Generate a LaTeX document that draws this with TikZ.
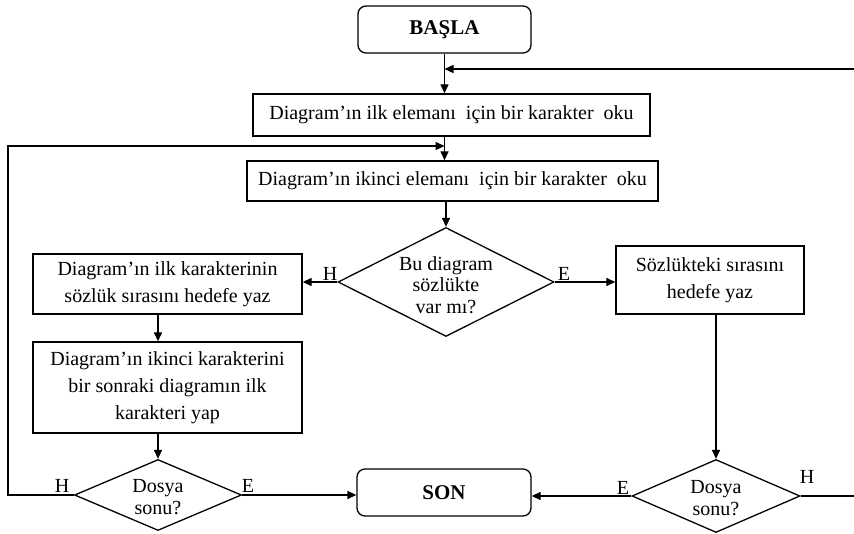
\documentclass[tikz,border=0pt]{standalone}
\usepackage{fontspec}
\setmainfont{Liberation Serif}
\usetikzlibrary{shapes.geometric,arrows.meta}

\begin{document}
\begin{tikzpicture}[x=1pt,y=-1pt,
  line width=1.3pt,
  procbox/.style={draw, rectangle, inner sep=0pt, align=center,
    font=\fontsize{20}{27}\selectfont},
  termbox/.style={draw, rectangle, rounded corners=8pt, inner sep=0pt,
    font=\bfseries\fontsize{21}{24}\selectfont},
  decbox/.style={draw, diamond, inner sep=0pt},
  dectext/.style={inner sep=0pt, align=center, font=\fontsize{20}{21.5}\selectfont},
  branch/.style={inner sep=0pt, font=\fontsize{20}{21}\selectfont},
  arr/.style={-{Triangle[length=9pt,width=8pt]}}]

\useasboundingbox (0,0) rectangle (854,534);
\clip (0,0) rectangle (854,534);

% terminals
\node[termbox, minimum width=173, minimum height=47] (basla) at (444.5,29.5) {BAŞLA};
\node[termbox, minimum width=174, minimum height=47] (son) at (444,492.5) {SON};

% reading steps
\node[procbox, minimum width=397, minimum height=42] (b1) at (451.5,115)
  {Diagram’ın ilk elemanı\ \ için bir karakter\ \ oku};
\node[procbox, minimum width=411, minimum height=40] (b2) at (452.5,181)
  {Diagram’ın ikinci elemanı\ \ için bir karakter\ \ oku};

% dictionary lookup
\node[decbox, minimum width=216, minimum height=109] (d1) at (446,282) {};
\node[dectext] (d1t) at (446,285) {Bu diagram\\sözlükte\\var mı?};

\node[procbox, minimum width=269, minimum height=60] (bA) at (167.5,284)
  {Diagram’ın ilk karakterinin\\sözlük sırasını hedefe yaz};
\node[procbox, minimum width=269, minimum height=91] (bC) at (167.5,387.5)
  {Diagram’ın ikinci karakterini\\bir sonraki diagramın ilk\\karakteri yap};
\node[procbox, minimum width=188, minimum height=68] (bB) at (710,280)
  {Sözlükteki sırasını\\hedefe yaz};

% end-of-file tests
\node[decbox, minimum width=167, minimum height=71] (d2) at (158,495) {};
\node[dectext] (d2t) at (158,497) {Dosya\\sonu?};
\node[decbox, minimum width=168, minimum height=73] (d3) at (716,496) {};
\node[dectext] (d3t) at (716,498) {Dosya\\sonu?};

% branch labels
\node[branch] (h1) at (330,274) {H};
\node[branch] (e1) at (564,274) {E};
\node[branch] (h2) at (62,486) {H};
\node[branch] (e2) at (248,486) {E};
\node[branch] (e3) at (623,488) {E};
\node[branch] (h3) at (807,477) {H};

% junctions on the main spine
\coordinate (j0) at (444.5,69);
\coordinate (j1) at (444.5,146);
\coordinate (bBs) at (716,314);

% main flow
\draw[arr] (basla.south) -- (basla.south |- b1.north);
\draw[arr] (j0 |- b1.south) -- (j0 |- b2.north);
\draw[arr] (d1.north |- b2.south) -- (d1.north);
\draw[arr] (d1.west) -- (d1.west -| bA.east);
\draw[arr] (d1.east) -- (d1.east -| bB.west);
\draw[arr] (bA.south -| 158,0) -- (bC.north -| 158,0);
\draw[arr] (bC.south -| d2.north) -- (d2.north);
\draw[arr] (bBs) -- (d3.north);
\draw[arr] (d2.east) -- (d2.east -| son.west);
\draw[arr] (d3.west) -- (d3.west -| son.east);

% loops back to the reading steps
\draw[arr] (d2.west) -- (8,495) |- (j1);
\draw[arr] (d3.east) -- (870,496) |- (j0);

\end{tikzpicture}
\end{document}
